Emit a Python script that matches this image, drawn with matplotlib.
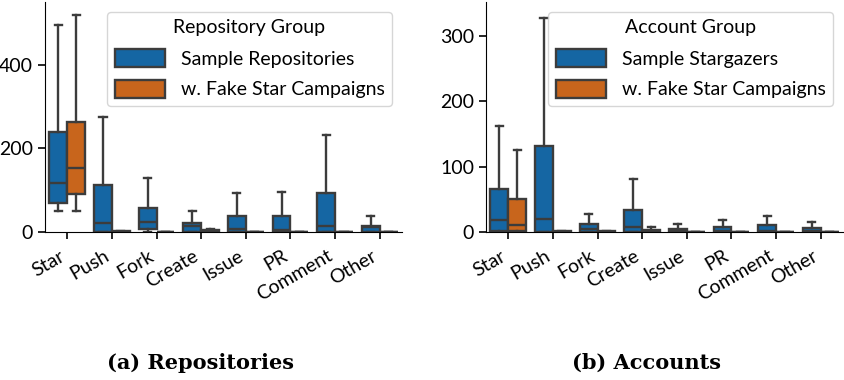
import numpy as np
import matplotlib
matplotlib.use("Agg")
import matplotlib.pyplot as plt
from matplotlib.patches import Patch

plt.rcParams['font.family'] = ['Lato', 'DejaVu Sans']
plt.rcParams['font.size'] = 14

categories = ["Star", "Push", "Fork", "Create", "Issue", "PR", "Comment", "Other"]

# (a) Repositories: box stats per event type
repo_sample_lo = [50, 0, 0, 0, 0, 0, 0, 0]
repo_sample_q1 = [70, 1, 7, 0, 0, 0, 0, 0]
repo_sample_med = [116, 22, 25, 15, 7, 4, 14, 12]
repo_sample_q3 = [240, 112, 58, 22, 38, 38, 94, 15]
repo_sample_hi = [494, 274, 130, 50, 93, 96, 233, 39]

repo_fake_lo = [50, 0, 0, 0, 0, 0, 0, 0]
repo_fake_q1 = [90, 0, 0, 0, 0, 0, 0, 0]
repo_fake_med = [152, 1, 0, 2, 0, 0, 0, 0]
repo_fake_q3 = [262, 2, 1, 5, 0, 0, 0, 1]
repo_fake_hi = [518, 2, 1, 6, 0, 0, 0, 1]

# (b) Accounts
acc_sample_lo = [0, 0, 0, 0, 0, 0, 0, 0]
acc_sample_q1 = [2, 0, 0, 0, 0, 0, 0, 0]
acc_sample_med = [18, 20, 4, 8, 1, 1, 1, 1]
acc_sample_q3 = [66, 131, 12, 33, 5, 8, 10, 6]
acc_sample_hi = [162, 327, 28, 81, 12, 19, 25, 15]

acc_fake_lo = [0, 0, 0, 0, 0, 0, 0, 0]
acc_fake_q1 = [1, 0, 0, 0, 0, 0, 0, 0]
acc_fake_med = [10, 0, 0, 1, 0, 0, 0, 0]
acc_fake_q3 = [51, 1, 1, 3, 0, 0, 0, 0]
acc_fake_hi = [125, 1, 1, 7, 0, 0, 0, 0]

blue = "#1566a3"
orange = "#c8651c"
edge = "#3c3c3c"


def make_stats(lo, q1, med, q3, hi):
    return [dict(whislo=a, q1=b, med=c, q3=d, whishi=e, fliers=[])
            for a, b, c, d, e in zip(lo, q1, med, q3, hi)]


def draw(ax, groups, colors, names, title, ymax, yticks):
    x = np.arange(len(categories))
    for k, (st, col) in enumerate(zip(groups, colors)):
        pos = x - 0.2 + 0.4 * k
        ax.bxp(st, positions=pos, widths=0.4, patch_artist=True,
               showfliers=False, capwidths=0.16,
               boxprops=dict(facecolor=col, edgecolor=edge, linewidth=1.7),
               medianprops=dict(color=edge, linewidth=1.7),
               whiskerprops=dict(color=edge, linewidth=1.7),
               capprops=dict(color=edge, linewidth=1.7))
    ax.set_xlim(-0.5, len(categories) - 0.5)
    ax.set_ylim(0, ymax)
    ax.set_yticks(yticks)
    ax.set_xticks(x)
    ax.set_xticklabels(categories, rotation=30, ha="right")
    ax.tick_params(axis="both", labelsize=14, width=1.2, length=5)
    ax.tick_params(axis="x", pad=6)
    ax.spines["top"].set_visible(False)
    ax.spines["right"].set_visible(False)
    handles = [Patch(facecolor=c, edgecolor=edge, linewidth=1.7) for c in colors]
    ax.legend(handles, names, title=title, loc="upper right",
              handlelength=2.6, handleheight=1.0, labelspacing=0.65,
              fontsize=14, title_fontsize=14)


fig = plt.figure(figsize=(8.45, 3.8), dpi=100)
ax1 = fig.add_axes([45 / 845, 148 / 380, 357 / 845, 230 / 380])
ax2 = fig.add_axes([486 / 845, 148 / 380, 357 / 845, 230 / 380])

draw(ax1,
     [make_stats(repo_sample_lo, repo_sample_q1, repo_sample_med, repo_sample_q3, repo_sample_hi),
      make_stats(repo_fake_lo, repo_fake_q1, repo_fake_med, repo_fake_q3, repo_fake_hi)],
     [blue, orange], ["Sample Repositories", "w. Fake Star Campaigns"],
     "Repository Group", 550, [0, 200, 400])
draw(ax2,
     [make_stats(acc_sample_lo, acc_sample_q1, acc_sample_med, acc_sample_q3, acc_sample_hi),
      make_stats(acc_fake_lo, acc_fake_q1, acc_fake_med, acc_fake_q3, acc_fake_hi)],
     [blue, orange], ["Sample Stargazers", "w. Fake Star Campaigns"],
     "Account Group", 352, [0, 100, 200, 300])

fig.text(201 / 845, 1 - 363 / 380, "(a) Repositories", ha="center", va="center",
         fontsize=15, fontweight="bold", family="DejaVu Serif")
fig.text(647 / 845, 1 - 363 / 380, "(b) Accounts", ha="center", va="center",
         fontsize=15, fontweight="bold", family="DejaVu Serif")

fig.savefig("out.png", dpi=100)
